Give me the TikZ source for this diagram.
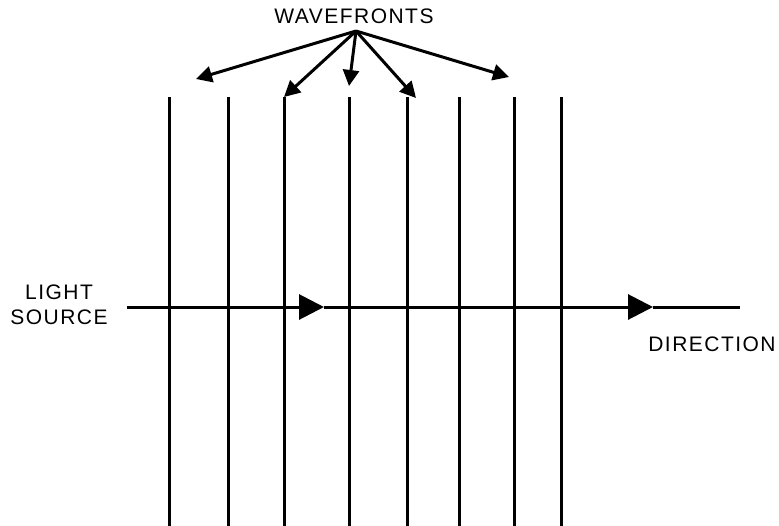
\documentclass[tikz,border=0pt]{standalone}
\usepackage{fontspec}
\setmainfont{Liberation Sans}[LetterSpace=7]
\usetikzlibrary{arrows.meta}
\begin{document}
\begin{tikzpicture}[x=1pt,y=-1pt,
  wline/.style={line width=3pt},
  lbl/.style={font=\fontsize{21}{25}\selectfont, inner sep=0pt, align=center},
  bigtip/.style={-{Triangle[length=25pt,width=25pt]}},
  smalltip/.style={-{Triangle[length=16pt,width=16pt]}}]
\useasboundingbox (0,0) rectangle (779,525);
% wavefronts
\foreach \x [count=\i] in {169,228,284,349,407,459,514,561}{
  \draw[wline] (\x,97) -- (\x,527);
}
% ray
\coordinate (src) at (127,307);
\coordinate (a1) at (324,307);
\coordinate (a2) at (653,307);
\coordinate (dend) at (740,307);
\draw[wline, bigtip] (src) -- (a1);
\draw[wline, bigtip] (a1) -- (a2);
\draw[wline] (a2) -- (dend);
% labels
\node[lbl] (wf) at (354,16) {WAVEFRONTS};
\node[lbl] (ls) at (59,305) {LIGHT\\SOURCE};
\node[lbl] (dir) at (712,344) {DIRECTION};
\coordinate (o) at (356,31);
\coordinate (t1) at (196,79);
\coordinate (t2) at (284,97);
\coordinate (t3) at (349,86);
\coordinate (t4) at (416,98);
\coordinate (t5) at (509,77);
\foreach \t in {t1,t2,t3,t4,t5}{
  \draw[line width=3pt, smalltip] (o) -- (\t);
}
\end{tikzpicture}
\end{document}
